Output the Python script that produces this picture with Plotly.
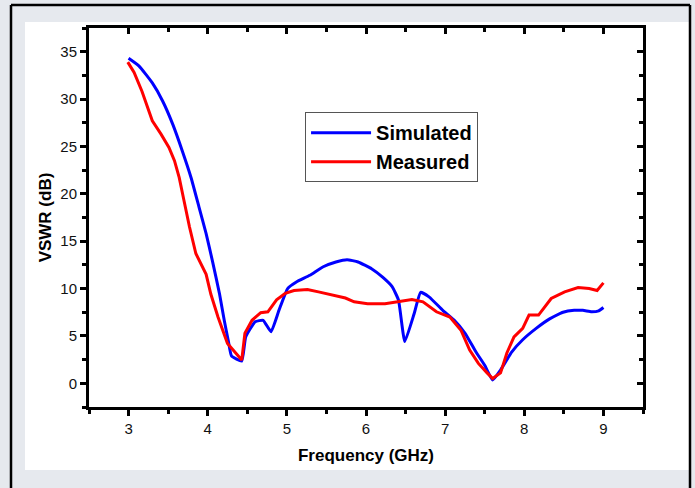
import plotly.graph_objects as go

# Simulated VSWR response
sim_freq = [3.00, 3.13, 3.30, 3.43, 3.56, 3.68, 3.79, 3.89, 3.98, 4.06, 4.15, 4.21,
            4.26, 4.30, 4.43, 4.48, 4.60, 4.70, 4.80, 4.90, 5.01, 5.12, 5.29, 5.46,
            5.62, 5.76, 5.90, 6.07, 6.21, 6.33, 6.41, 6.49, 6.61, 6.69, 6.80, 6.97,
            7.11, 7.25, 7.39, 7.50, 7.60, 7.70, 7.84, 7.98, 8.15, 8.32, 8.49, 8.63,
            8.74, 8.85, 8.94, 9.00]
sim_vswr = [34.3, 33.5, 31.7, 29.8, 27.3, 24.5, 21.7, 18.6, 15.8, 12.9, 9.4, 6.6,
            4.5, 2.9, 2.35, 4.9, 6.5, 6.65, 5.45, 7.7, 10.0, 10.7, 11.4, 12.3,
            12.8, 13.05, 12.8, 12.1, 11.2, 10.2, 8.8, 4.4, 7.4, 9.6, 9.1, 7.7,
            6.7, 5.3, 3.3, 1.9, 0.35, 1.4, 3.3, 4.6, 5.8, 6.8, 7.5, 7.7,
            7.7, 7.55, 7.65, 8.0]

# Measured VSWR response
meas_freq = [2.99, 3.07, 3.17, 3.30, 3.41, 3.51, 3.58, 3.64, 3.70, 3.77, 3.85, 3.98,
             4.04, 4.13, 4.25, 4.38, 4.43, 4.47, 4.56, 4.67, 4.76, 4.87, 4.98,
             5.09, 5.26, 5.40, 5.57, 5.74, 5.85, 6.02, 6.24, 6.41, 6.58, 6.72, 6.89,
             7.06, 7.20, 7.31, 7.42, 7.53, 7.60, 7.70, 7.78, 7.87, 7.98, 8.06, 8.18,
             8.34, 8.51, 8.68, 8.82, 8.92, 9.00]
meas_vswr = [33.9, 32.8, 30.8, 27.7, 26.3, 24.9, 23.5, 21.7, 19.3, 16.5, 13.7, 11.5,
             9.4, 7.0, 4.2, 2.9, 2.45, 5.3, 6.65, 7.45, 7.55, 8.8, 9.5,
             9.8, 9.9, 9.65, 9.3, 9.0, 8.6, 8.4, 8.4, 8.6, 8.85, 8.6, 7.55,
             7.0, 5.6, 3.5, 2.1, 1.1, 0.5, 1.1, 3.2, 4.9, 5.8, 7.2, 7.2,
             8.95, 9.65, 10.1, 10.0, 9.8, 10.6]

x_range = [2.5, 9.5]
y_range = [-2.5, 37.5]

FONT = "Liberation Sans, Arial, sans-serif"

fig = go.Figure()
fig.add_trace(go.Scatter(x=sim_freq, y=sim_vswr, mode="lines", name="Simulated",
                         line=dict(color="#0000ff", width=3, shape="spline",
                                   smoothing=0.4)))
fig.add_trace(go.Scatter(x=meas_freq, y=meas_vswr, mode="lines", name="Measured",
                         line=dict(color="#ff0000", width=3)))

axis_common = dict(showgrid=False, zeroline=False, showline=True,
                   linecolor="black", linewidth=3, tickcolor="black",
                   tickwidth=2.5)

fig.update_layout(
    width=695, height=488, autosize=False,
    margin=dict(l=89, r=52, t=28, b=81),
    paper_bgcolor="#e6e9ee", plot_bgcolor="white",
    font=dict(family=FONT, color="black"),
    xaxis=dict(range=x_range, dtick=1, tick0=0, ticks="outside", ticklen=6,
               minor=dict(dtick=0.5, tick0=0, ticks="outside", ticklen=4,
                          tickwidth=2.5, tickcolor="black"),
               tickfont=dict(size=15, color="#111"),
               title=dict(text="<b>Frequency (GHz)</b>", font=dict(size=17),
                          standoff=14),
               **axis_common),
    yaxis=dict(range=y_range, dtick=5, tick0=0, ticks="outside", ticklen=6,
               minor=dict(dtick=2.5, tick0=0, ticks="outside", ticklen=4,
                          tickwidth=2.5, tickcolor="black"),
               tickfont=dict(size=15, color="#111"),
               title=dict(text="<b>VSWR (dB)</b>", font=dict(size=17),
                          standoff=5),
               **axis_common),
    # mirrored frame with inward ticks on top and right
    xaxis2=dict(range=x_range, dtick=1, tick0=0, overlaying="x", side="top",
                anchor="y", ticks="inside", ticklen=6, showticklabels=False,
                minor=dict(dtick=0.5, tick0=0, ticks="inside", ticklen=4,
                           tickwidth=2.5, tickcolor="black"),
                **axis_common),
    yaxis2=dict(range=y_range, dtick=5, tick0=0, overlaying="y", side="right",
                anchor="x", ticks="inside", ticklen=6, showticklabels=False,
                minor=dict(dtick=2.5, tick0=0, ticks="inside", ticklen=4,
                           tickwidth=2.5, tickcolor="black"),
                **axis_common),
    legend=dict(x=0.39, y=0.778, xanchor="left", yanchor="top",
                bgcolor="white", bordercolor="#555", borderwidth=1,
                font=dict(size=20, family=FONT, color="black", weight="bold"),
                itemwidth=60, tracegroupgap=0),
    shapes=[
        # white panel behind the chart
        dict(type="rect", xref="paper", yref="paper", layer="below",
             x0=-64 / 554, x1=601 / 554, y0=-63 / 379, y1=385 / 379,
             fillcolor="white", line=dict(width=0)),
        # outer frame
        dict(type="line", xref="paper", yref="paper",
             x0=-78 / 554, x1=601 / 554, y0=402 / 379, y1=402 / 379,
             line=dict(color="black", width=2.5)),
        dict(type="line", xref="paper", yref="paper",
             x0=-78 / 554, x1=-78 / 554, y0=402 / 379, y1=-81 / 379,
             line=dict(color="black", width=2.5)),
        dict(type="line", xref="paper", yref="paper",
             x0=601 / 554, x1=601 / 554, y0=402 / 379, y1=-81 / 379,
             line=dict(color="black", width=2.5)),
    ],
)

# empty traces bind the mirrored axes
fig.add_trace(go.Scatter(x=[], y=[], xaxis="x2", yaxis="y2", showlegend=False,
                         hoverinfo="skip"))

fig.write_html("out.html")
